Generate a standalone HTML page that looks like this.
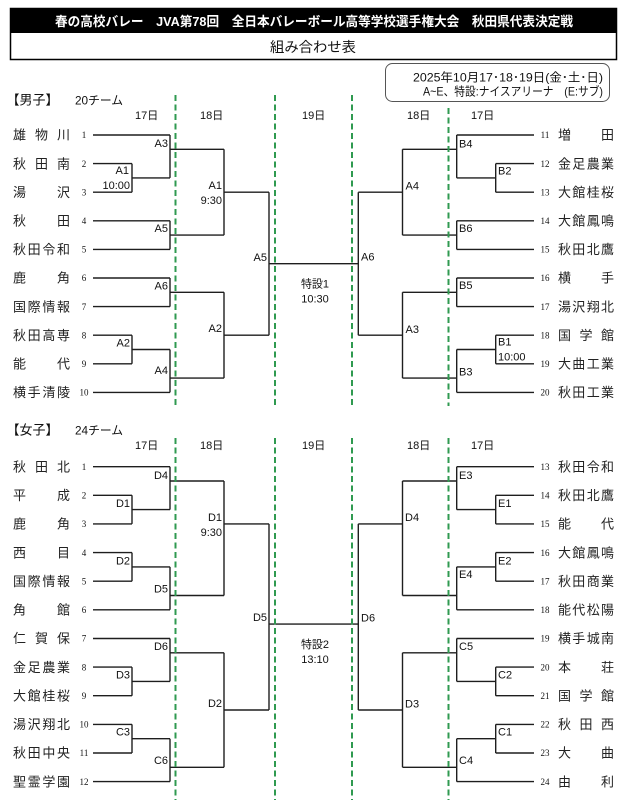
<!DOCTYPE html>
<html><head><meta charset="utf-8"><style>
html,body{margin:0;padding:0;background:#fff;}
svg{display:block;}
text{font-family:"Liberation Sans","Noto Sans CJK JP",sans-serif;fill:#111;}
.n{font-size:13px;fill:#222;}
.num{font-family:"Liberation Serif","Noto Serif CJK SC",serif;font-size:9px;text-anchor:middle;}
.l{font-size:11px;}
.e{text-anchor:end;}
.m{text-anchor:middle;}
</style></head><body>
<svg width="625" height="800" viewBox="0 0 625 800" xmlns="http://www.w3.org/2000/svg">
<rect width="625" height="800" fill="#fff"/>
<!-- header -->
<rect x="10.5" y="8.5" width="606" height="51" fill="#fff" stroke="#000" stroke-width="1.5"/>
<rect x="10" y="8" width="607" height="25" fill="#000"/>
<text x="55" y="26" style="font-size:13px;font-weight:bold;fill:#fff" textLength="518" lengthAdjust="spacingAndGlyphs">春の高校バレー　JVA第78回　全日本バレーボール高等学校選手権大会　秋田県代表決定戦</text>
<text x="270" y="52" style="font-size:14px" textLength="86" lengthAdjust="spacingAndGlyphs">組み合わせ表</text>
<rect x="385.5" y="63.5" width="224" height="38" rx="7" fill="none" stroke="#555" stroke-width="1"/>
<text x="413" y="81.3" style="font-size:12px" textLength="190" lengthAdjust="spacingAndGlyphs">2025年10月17･18･19日(金･土･日)</text>
<text x="423" y="95.3" style="font-size:12px" textLength="180" lengthAdjust="spacingAndGlyphs">A~E、特設:ナイスアリーナ　(E:サブ)</text>

<!-- men headings -->
<text x="6.5" y="104.7" style="font-size:13px">【男子】</text>
<text x="75" y="104.3" style="font-size:12px" textLength="48" lengthAdjust="spacingAndGlyphs">20チーム</text>
<text class="l" x="135" y="119">17日</text>
<text class="l" x="200" y="119">18日</text>
<text class="l" x="302" y="119">19日</text>
<text class="l" x="407" y="119">18日</text>
<text class="l" x="471" y="119">17日</text>

<!-- women headings -->
<text x="6.5" y="434.7" style="font-size:13px">【女子】</text>
<text x="75" y="434.3" style="font-size:12px" textLength="48" lengthAdjust="spacingAndGlyphs">24チーム</text>
<text class="l" x="135" y="449">17日</text>
<text class="l" x="200" y="449">18日</text>
<text class="l" x="302" y="449">19日</text>
<text class="l" x="407" y="449">18日</text>
<text class="l" x="471" y="449">17日</text>

<!-- bracket lines -->
<g fill="none" stroke="#1e1e1e" stroke-width="1.4">
<!-- men left -->
<path d="M93 135H170 M93 163.6H132 M93 192.2H132 M132 163.6V192.2 M132 177.9H170 M170 135V177.9 M170 149.3H224"/>
<path d="M93 220.8H170 M93 249.4H170 M170 220.8V249.4 M170 235.1H224 M224 149.3V235.1 M224 192.2H269"/>
<path d="M93 278H170 M93 306.6H170 M170 278V306.6 M170 292.3H224"/>
<path d="M93 335.2H132 M93 363.8H132 M132 335.2V363.8 M132 349.5H170 M93 392.4H170 M170 349.5V392.4 M170 378.1H224"/>
<path d="M224 292.3V378.1 M224 335.2H269 M269 192.2V335.2 M269 263.7H358.3"/>
<!-- men right -->
<path d="M534 135H456.7 M534 163.6H495.7 M534 192.2H495.7 M495.7 163.6V192.2 M495.7 177.9H456.7 M456.7 135V177.9 M456.7 149.3H402.5"/>
<path d="M534 220.8H456.7 M534 249.4H456.7 M456.7 220.8V249.4 M456.7 235.1H402.5 M402.5 149.3V235.1 M402.5 192.2H358.3"/>
<path d="M534 278H456.7 M534 306.6H456.7 M456.7 278V306.6 M456.7 292.3H402.5"/>
<path d="M534 335.2H495.7 M534 363.8H495.7 M495.7 335.2V363.8 M495.7 349.5H456.7 M534 392.4H456.7 M456.7 349.5V392.4 M456.7 378.1H402.5"/>
<path d="M402.5 292.3V378.1 M402.5 335.2H358.3 M358.3 192.2V335.2"/>
<!-- women left -->
<path d="M93 466.7H170 M93 495.3H132 M93 523.9H132 M132 495.3V523.9 M132 509.6H170 M170 466.7V509.6 M170 481H224"/>
<path d="M93 552.6H132 M93 581.2H132 M132 552.6V581.2 M132 566.9H170 M93 609.8H170 M170 566.9V609.8 M170 595.5H224"/>
<path d="M224 481V595.5 M224 523.9H269"/>
<path d="M93 638.5H170 M93 667.1H132 M93 695.7H132 M132 667.1V695.7 M132 681.4H170 M170 638.5V681.4 M170 652.8H224"/>
<path d="M93 724.4H132 M93 753H132 M132 724.4V753 M132 738.7H170 M93 781.6H170 M170 738.7V781.6 M170 767.3H224"/>
<path d="M224 652.8V767.3 M224 710H269 M269 523.9V710 M269 624.1H358.3"/>
<!-- women right -->
<path d="M534 466.7H456.7 M534 495.3H495.7 M534 523.9H495.7 M495.7 495.3V523.9 M495.7 509.6H456.7 M456.7 466.7V509.6 M456.7 481H402.5"/>
<path d="M534 552.6H495.7 M534 581.2H495.7 M495.7 552.6V581.2 M495.7 566.9H456.7 M534 609.8H456.7 M456.7 566.9V609.8 M456.7 595.5H402.5"/>
<path d="M402.5 481V595.5 M402.5 523.9H358.3"/>
<path d="M534 638.5H456.7 M534 667.1H495.7 M534 695.7H495.7 M495.7 667.1V695.7 M495.7 681.4H456.7 M456.7 638.5V681.4 M456.7 652.8H402.5"/>
<path d="M534 724.4H495.7 M534 753H495.7 M495.7 724.4V753 M495.7 738.7H456.7 M534 781.6H456.7 M456.7 738.7V781.6 M456.7 767.3H402.5"/>
<path d="M402.5 652.8V767.3 M402.5 710H358.3 M358.3 523.9V710"/>
</g>

<!-- green dashed day separators -->
<g stroke="#2f9a50" stroke-width="2" stroke-dasharray="6 3.5" fill="none">
<path d="M175.5 95V406 M275 95V406 M352 95V406 M448.5 108V406"/>
<path d="M175.5 438V800 M275 438V800 M352 438V800 M448.5 438V800"/>
</g>

<!-- men left names -->
<text class="n" x="13 35 57" y="139.7">雄物川</text>
<text class="n" x="13 35 57" y="168.3">秋田南</text>
<text class="n" x="13 57" y="196.9">湯沢</text>
<text class="n" x="13 57" y="225.5">秋田</text>
<text class="n" x="13 27.67 42.33 57" y="254.1">秋田令和</text>
<text class="n" x="13 57" y="282.7">鹿角</text>
<text class="n" x="13 27.67 42.33 57" y="311.3">国際情報</text>
<text class="n" x="13 27.67 42.33 57" y="339.9">秋田高専</text>
<text class="n" x="13 57" y="368.5">能代</text>
<text class="n" x="13 27.67 42.33 57" y="397.1">横手清陵</text>
<text class="num" x="84" y="138.2">1</text>
<text class="num" x="84" y="166.8">2</text>
<text class="num" x="84" y="195.4">3</text>
<text class="num" x="84" y="224">4</text>
<text class="num" x="84" y="252.6">5</text>
<text class="num" x="84" y="281.2">6</text>
<text class="num" x="84" y="309.8">7</text>
<text class="num" x="84" y="338.4">8</text>
<text class="num" x="84" y="367">9</text>
<text class="num" x="84" y="395.6">10</text>

<!-- men right names -->
<text class="n" x="558 601" y="139.7">増田</text>
<text class="n" x="558 572.3 586.7 601" y="168.3">金足農業</text>
<text class="n" x="558 572.3 586.7 601" y="196.9">大館桂桜</text>
<text class="n" x="558 572.3 586.7 601" y="225.5">大館鳳鳴</text>
<text class="n" x="558 572.3 586.7 601" y="254.1">秋田北鷹</text>
<text class="n" x="558 601" y="282.7">横手</text>
<text class="n" x="558 572.3 586.7 601" y="311.3">湯沢翔北</text>
<text class="n" x="558 579.5 601" y="339.9">国学館</text>
<text class="n" x="558 572.3 586.7 601" y="368.5">大曲工業</text>
<text class="n" x="558 572.3 586.7 601" y="397.1">秋田工業</text>
<text class="num" x="545" y="138.2">11</text>
<text class="num" x="545" y="166.8">12</text>
<text class="num" x="545" y="195.4">13</text>
<text class="num" x="545" y="224">14</text>
<text class="num" x="545" y="252.6">15</text>
<text class="num" x="545" y="281.2">16</text>
<text class="num" x="545" y="309.8">17</text>
<text class="num" x="545" y="338.4">18</text>
<text class="num" x="545" y="367">19</text>
<text class="num" x="545" y="395.6">20</text>

<!-- women left names -->
<text class="n" x="13 35 57" y="471.4">秋田北</text>
<text class="n" x="13 57" y="500">平成</text>
<text class="n" x="13 57" y="528.6">鹿角</text>
<text class="n" x="13 57" y="557.3">西目</text>
<text class="n" x="13 27.67 42.33 57" y="585.9">国際情報</text>
<text class="n" x="13 57" y="614.5">角館</text>
<text class="n" x="13 35 57" y="643.2">仁賀保</text>
<text class="n" x="13 27.67 42.33 57" y="671.8">金足農業</text>
<text class="n" x="13 27.67 42.33 57" y="700.4">大館桂桜</text>
<text class="n" x="13 27.67 42.33 57" y="729.1">湯沢翔北</text>
<text class="n" x="13 27.67 42.33 57" y="757.7">秋田中央</text>
<text class="n" x="13 27.67 42.33 57" y="786.3">聖霊学園</text>
<text class="num" x="84" y="469.9">1</text>
<text class="num" x="84" y="498.5">2</text>
<text class="num" x="84" y="527.1">3</text>
<text class="num" x="84" y="555.8">4</text>
<text class="num" x="84" y="584.4">5</text>
<text class="num" x="84" y="613">6</text>
<text class="num" x="84" y="641.7">7</text>
<text class="num" x="84" y="670.3">8</text>
<text class="num" x="84" y="698.9">9</text>
<text class="num" x="84" y="727.6">10</text>
<text class="num" x="84" y="756.2">11</text>
<text class="num" x="84" y="784.8">12</text>

<!-- women right names -->
<text class="n" x="558 572.3 586.7 601" y="471.4">秋田令和</text>
<text class="n" x="558 572.3 586.7 601" y="500">秋田北鷹</text>
<text class="n" x="558 601" y="528.6">能代</text>
<text class="n" x="558 572.3 586.7 601" y="557.3">大館鳳鳴</text>
<text class="n" x="558 572.3 586.7 601" y="585.9">秋田商業</text>
<text class="n" x="558 572.3 586.7 601" y="614.5">能代松陽</text>
<text class="n" x="558 572.3 586.7 601" y="643.2">横手城南</text>
<text class="n" x="558 601" y="671.8">本荘</text>
<text class="n" x="558 579.5 601" y="700.4">国学館</text>
<text class="n" x="558 579.5 601" y="729.1">秋田西</text>
<text class="n" x="558 601" y="757.7">大曲</text>
<text class="n" x="558 601" y="786.3">由利</text>
<text class="num" x="545" y="469.9">13</text>
<text class="num" x="545" y="498.5">14</text>
<text class="num" x="545" y="527.1">15</text>
<text class="num" x="545" y="555.8">16</text>
<text class="num" x="545" y="584.4">17</text>
<text class="num" x="545" y="613">18</text>
<text class="num" x="545" y="641.7">19</text>
<text class="num" x="545" y="670.3">20</text>
<text class="num" x="545" y="698.9">21</text>
<text class="num" x="545" y="727.6">22</text>
<text class="num" x="545" y="756.2">23</text>
<text class="num" x="545" y="784.8">24</text>

<!-- men match labels left -->
<text class="l e" x="168" y="147">A3</text>
<text class="l e" x="129" y="174">A1</text>
<text class="l e" x="130" y="189">10:00</text>
<text class="l e" x="168" y="232">A5</text>
<text class="l e" x="222" y="189">A1</text>
<text class="l e" x="222" y="204">9:30</text>
<text class="l e" x="168" y="289.7">A6</text>
<text class="l e" x="130" y="346.7">A2</text>
<text class="l e" x="168" y="374">A4</text>
<text class="l e" x="222" y="332">A2</text>
<text class="l e" x="267" y="261">A5</text>
<!-- men match labels right -->
<text class="l" x="459" y="147.3">B4</text>
<text class="l" x="498" y="174.7">B2</text>
<text class="l" x="459" y="232">B6</text>
<text class="l" x="405.5" y="189.7">A4</text>
<text class="l" x="361" y="260.7">A6</text>
<text class="l" x="459" y="289">B5</text>
<text class="l" x="405.5" y="333">A3</text>
<text class="l" x="498" y="345.7">B1</text>
<text class="l" x="498" y="360.7">10:00</text>
<text class="l" x="459" y="375.7">B3</text>
<text class="l m" x="315" y="287.3">特設1</text>
<text class="l m" x="315" y="302.3">10:30</text>

<!-- women match labels left -->
<text class="l e" x="168" y="479">D4</text>
<text class="l e" x="130" y="507">D1</text>
<text class="l e" x="222" y="521">D1</text>
<text class="l e" x="222" y="536">9:30</text>
<text class="l e" x="130" y="564.7">D2</text>
<text class="l e" x="168" y="592.7">D5</text>
<text class="l e" x="267" y="621">D5</text>
<text class="l e" x="168" y="650">D6</text>
<text class="l e" x="130" y="678.7">D3</text>
<text class="l e" x="222" y="707">D2</text>
<text class="l e" x="130" y="735.7">C3</text>
<text class="l e" x="168" y="764">C6</text>
<!-- women match labels right -->
<text class="l" x="459" y="479">E3</text>
<text class="l" x="498" y="507">E1</text>
<text class="l" x="405" y="521">D4</text>
<text class="l" x="498" y="564.7">E2</text>
<text class="l" x="459" y="578">E4</text>
<text class="l" x="361" y="621.3">D6</text>
<text class="l" x="459" y="650">C5</text>
<text class="l" x="498" y="678.7">C2</text>
<text class="l" x="405" y="707.3">D3</text>
<text class="l" x="498" y="735.7">C1</text>
<text class="l" x="459" y="764">C4</text>
<text class="l m" x="315" y="648">特設2</text>
<text class="l m" x="315" y="663">13:10</text>
</svg>
</body></html>
